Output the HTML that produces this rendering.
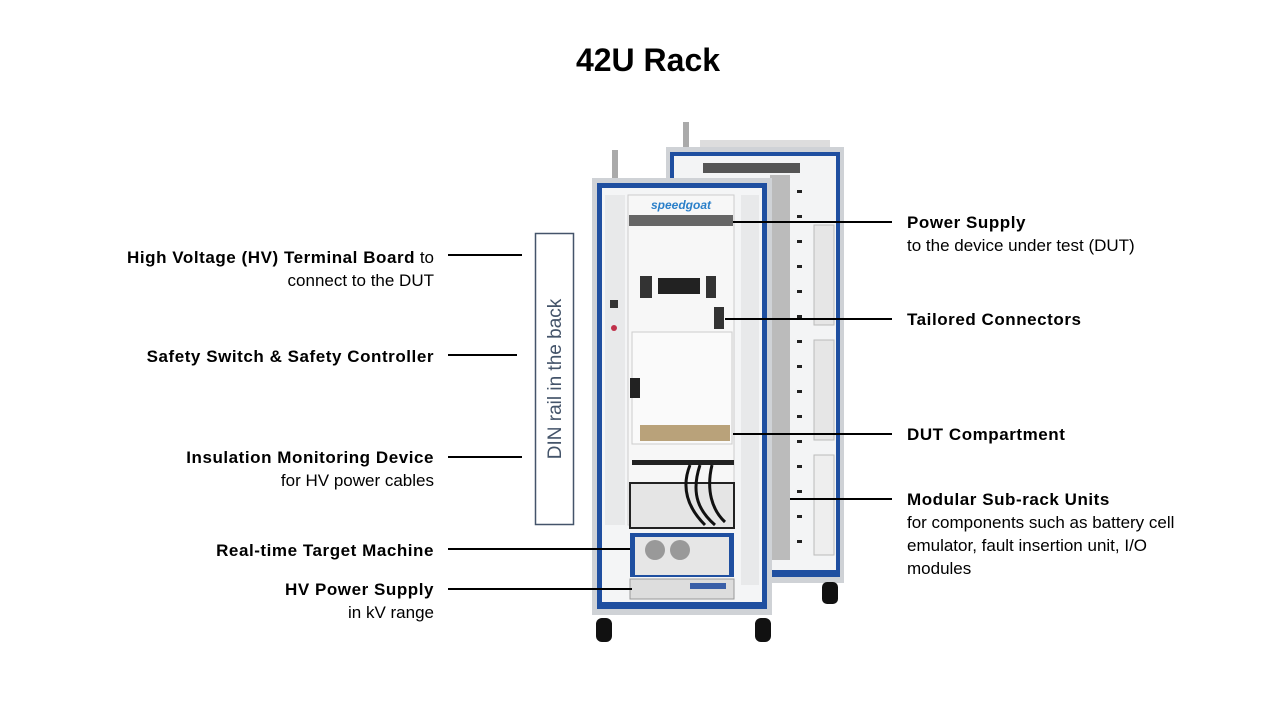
<!DOCTYPE html>
<html><head><meta charset="utf-8"><style>
body{margin:0;width:1280px;height:720px;background:#fff;position:relative;overflow:hidden;font-family:"Liberation Sans",sans-serif;color:#000}
.a{position:absolute}
.t{position:absolute;font-size:17px;line-height:23px;white-space:nowrap}
.r{text-align:right;right:846px}
.l{left:907px}
b{font-weight:bold;letter-spacing:0.55px}
.ln{position:absolute;height:2px;background:#000}
</style></head><body>
<div class="a" style="left:0;width:1296px;top:42px;text-align:center;font-size:32px;font-weight:bold">42U Rack</div>

<svg class="a" style="left:0;top:0" width="1280" height="720">
 <rect x="683" y="122" width="6" height="30" fill="#aaa"/>
 <rect x="700" y="140" width="130" height="10" fill="#ddd"/>
 <rect x="666" y="147" width="178" height="436" fill="#cfd2d6"/>
 <rect x="670" y="152" width="170" height="425" fill="#1f4fa0"/>
 <rect x="674" y="156" width="162" height="414" fill="#f3f4f5"/>
 <rect x="703" y="163" width="97" height="10" fill="#555"/>
 <rect x="770" y="175" width="20" height="385" fill="#bbb"/>
 <g fill="#222">
  <rect x="797" y="190" width="5" height="3"/><rect x="797" y="215" width="5" height="3"/><rect x="797" y="240" width="5" height="3"/>
  <rect x="797" y="265" width="5" height="3"/><rect x="797" y="290" width="5" height="3"/><rect x="797" y="315" width="5" height="3"/>
  <rect x="797" y="340" width="5" height="3"/><rect x="797" y="365" width="5" height="3"/><rect x="797" y="390" width="5" height="3"/>
  <rect x="797" y="415" width="5" height="3"/><rect x="797" y="440" width="5" height="3"/><rect x="797" y="465" width="5" height="3"/>
  <rect x="797" y="490" width="5" height="3"/><rect x="797" y="515" width="5" height="3"/><rect x="797" y="540" width="5" height="3"/>
 </g>
 <rect x="814" y="225" width="20" height="100" fill="#e6e6e6" stroke="#bbb"/>
 <rect x="814" y="340" width="20" height="100" fill="#e6e6e6" stroke="#bbb"/>
 <rect x="814" y="455" width="20" height="100" fill="#eee" stroke="#bbb"/>
 <rect x="822" y="582" width="16" height="22" rx="5" fill="#111"/>
 <rect x="612" y="150" width="6" height="32" fill="#aaa"/>
 <rect x="592" y="178" width="180" height="437" fill="#cfd2d6"/>
 <rect x="597" y="183" width="170" height="426" fill="#1f4fa0"/>
 <rect x="602" y="188" width="160" height="414" fill="#f4f5f6"/>
 <rect x="605" y="195" width="20" height="330" fill="#e8e9ea"/>
 <rect x="741" y="195" width="18" height="390" fill="#e8e9ea"/>
 <rect x="628" y="195" width="106" height="330" fill="#f7f7f7" stroke="#ccc"/>
 <text x="681" y="209" font-family="Liberation Sans" font-style="italic" font-weight="bold" font-size="12" fill="#2a7fc9" text-anchor="middle">speedgoat</text>
 <rect x="629" y="215" width="104" height="11" fill="#666"/>
 <rect x="640" y="276" width="12" height="22" fill="#333"/><rect x="706" y="276" width="10" height="22" fill="#333"/>
 <rect x="658" y="278" width="42" height="16" fill="#222"/>
 <rect x="714" y="307" width="10" height="22" fill="#333"/>
 <circle cx="614" cy="328" r="3" fill="#c0304a"/>
 <rect x="610" y="300" width="8" height="8" fill="#333"/>
 <rect x="632" y="332" width="100" height="112" fill="#fafafa" stroke="#ccc"/>
 <rect x="630" y="378" width="10" height="20" fill="#222"/>
 <rect x="640" y="425" width="90" height="16" fill="#b9a27a"/>
 <rect x="632" y="460" width="102" height="5" fill="#222"/>
 <rect x="630" y="483" width="104" height="45" fill="#e5e5e5" stroke="#222" stroke-width="2"/>
 <path d="M690 465 C680 490 690 510 705 525 M700 465 C690 495 700 512 715 525 M712 465 C706 490 712 510 725 522" stroke="#111" stroke-width="3" fill="none"/>
 <rect x="630" y="533" width="104" height="44" fill="#1f4fa0"/>
 <rect x="635" y="537" width="94" height="38" fill="#e6e6e6"/>
 <circle cx="655" cy="550" r="10" fill="#999"/><circle cx="680" cy="550" r="10" fill="#999"/>
 <rect x="630" y="579" width="104" height="20" fill="#ddd" stroke="#999"/>
 <rect x="690" y="583" width="36" height="6" fill="#3a5fa8"/>
 <rect x="596" y="618" width="16" height="24" rx="6" fill="#111"/>
 <rect x="755" y="618" width="16" height="24" rx="6" fill="#111"/>
 <rect x="535.5" y="233.5" width="38" height="291" fill="#fff" stroke="#44546a" stroke-width="1.5"/>
 <text transform="translate(561,379) rotate(-90)" text-anchor="middle" font-family="Liberation Sans" font-size="19" fill="#44546a">DIN rail in the back</text>
</svg>

<div class="ln" style="left:448px;width:74px;top:254px"></div>
<div class="ln" style="left:448px;width:69px;top:354px"></div>
<div class="ln" style="left:448px;width:74px;top:456px"></div>
<div class="ln" style="left:448px;width:182px;top:548px"></div>
<div class="ln" style="left:448px;width:184px;top:588px"></div>
<div class="ln" style="left:733px;width:159px;top:221px"></div>
<div class="ln" style="left:725px;width:167px;top:318px"></div>
<div class="ln" style="left:733px;width:159px;top:433px"></div>
<div class="ln" style="left:790px;width:102px;top:498px"></div>

<div class="t r" style="top:246px"><b>High Voltage (HV) Terminal Board</b> to<br>connect to the DUT</div>
<div class="t r" style="top:345px"><b>Safety Switch &amp; Safety Controller</b></div>
<div class="t r" style="top:446px"><b>Insulation Monitoring Device</b><br>for HV power cables</div>
<div class="t r" style="top:539px"><b>Real-time Target Machine</b></div>
<div class="t r" style="top:578px"><b>HV Power Supply</b><br>in kV range</div>

<div class="t l" style="top:211px"><b>Power Supply</b><br>to the device under test (DUT)</div>
<div class="t l" style="top:308px"><b>Tailored Connectors</b></div>
<div class="t l" style="top:423px"><b>DUT Compartment</b></div>
<div class="t l" style="top:488px"><b>Modular Sub-rack Units</b><br>for components such as battery cell<br>emulator, fault insertion unit, I/O<br>modules</div>
</body></html>
